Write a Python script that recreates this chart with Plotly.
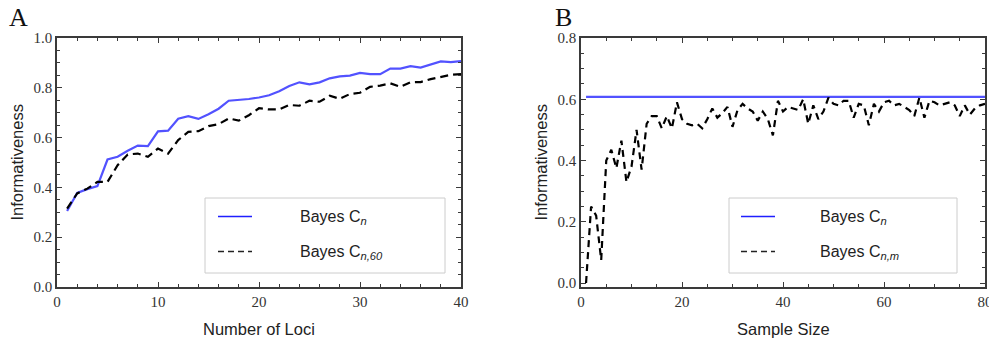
import plotly.graph_objects as go

# ---- Panel A: informativeness vs number of loci ----
loci = list(range(1, 41))
bayes_cn_a = [0.305, 0.378, 0.393, 0.405, 0.512, 0.523, 0.547, 0.568, 0.566, 0.625,
              0.628, 0.676, 0.686, 0.675, 0.694, 0.716, 0.748, 0.750, 0.755, 0.761,
              0.770, 0.786, 0.807, 0.822, 0.814, 0.822, 0.838, 0.846, 0.849, 0.860,
              0.855, 0.855, 0.877, 0.877, 0.887, 0.881, 0.892, 0.906, 0.903, 0.907]
bayes_cn60_a = [0.315, 0.376, 0.395, 0.422, 0.422, 0.489, 0.532, 0.536, 0.523, 0.556,
                0.536, 0.590, 0.623, 0.626, 0.646, 0.654, 0.677, 0.668, 0.690, 0.718,
                0.713, 0.713, 0.731, 0.728, 0.748, 0.744, 0.768, 0.756, 0.775, 0.780,
                0.804, 0.809, 0.818, 0.804, 0.822, 0.823, 0.835, 0.844, 0.852, 0.855]

# ---- Panel B: informativeness vs sample size ----
sample_size = list(range(1, 81))
bayes_cn_b = [0.608] * 80
bayes_cnm_b = [0.000, 0.250, 0.220, 0.075, 0.400, 0.435, 0.375, 0.465, 0.330, 0.380,
               0.500, 0.370, 0.520, 0.545, 0.545, 0.505, 0.545, 0.505, 0.590, 0.535,
               0.520, 0.515, 0.520, 0.505, 0.535, 0.570, 0.540, 0.555, 0.575, 0.510,
               0.565, 0.585, 0.570, 0.560, 0.530, 0.560, 0.535, 0.482, 0.595, 0.560,
               0.575, 0.570, 0.565, 0.600, 0.520, 0.580, 0.535, 0.560, 0.605, 0.585,
               0.580, 0.595, 0.595, 0.540, 0.585, 0.580, 0.515, 0.585, 0.560, 0.590,
               0.595, 0.580, 0.585, 0.575, 0.565, 0.545, 0.605, 0.540, 0.595, 0.590,
               0.580, 0.585, 0.590, 0.580, 0.545, 0.580, 0.550, 0.570, 0.580, 0.585]

W, H = 989, 341
BLUE = "#5252ff"
LEG_BLUE = "#1f1fff"
FRAME = "#3a3a3a"
SERIF = "Liberation Serif, Times New Roman, serif"
SANS = "Liberation Sans, Arial, sans-serif"

# plot areas in pixels
ax_a = dict(x0=57, x1=461)
ax_b = dict(x0=581, x1=985)
y_top, y_bot = 38, 287


def px_x(p):
    return p / W


def px_y(p):
    return 1 - p / H


fig = go.Figure()

fig.add_trace(go.Scatter(x=loci, y=bayes_cn_a, mode="lines",
                         line=dict(color=BLUE, width=2.2), xaxis="x", yaxis="y",
                         showlegend=False))
fig.add_trace(go.Scatter(x=loci, y=bayes_cn60_a, mode="lines",
                         line=dict(color="black", width=2.2, dash="8px,5px"),
                         xaxis="x", yaxis="y", showlegend=False))
fig.add_trace(go.Scatter(x=sample_size, y=bayes_cn_b, mode="lines",
                         line=dict(color=BLUE, width=2.2), xaxis="x2", yaxis="y2",
                         showlegend=False))
fig.add_trace(go.Scatter(x=sample_size, y=bayes_cnm_b, mode="lines",
                         line=dict(color="black", width=2.2, dash="7px,5px"),
                         xaxis="x2", yaxis="y2", showlegend=False))

tickfont = dict(family=SERIF, size=15, color="#333333")


def axis(domain, rng, dtick, minor_dtick, anchor):
    return dict(
        domain=domain, range=rng, dtick=dtick, tick0=0,
        showgrid=False, zeroline=False, showline=True, linecolor=FRAME,
        linewidth=1.5, mirror="ticks", ticks="inside", ticklen=5,
        tickwidth=1.2, tickcolor=FRAME, tickfont=tickfont,
        ticklabeloverflow="allow",
        minor=dict(dtick=minor_dtick, tick0=0, ticks="inside", ticklen=3,
                   tickwidth=1, tickcolor=FRAME, showgrid=False),
        anchor=anchor, automargin=False, fixedrange=True,
    )


ydom = [px_y(y_bot), px_y(y_top)]
xa = axis([px_x(ax_a["x0"]), px_x(ax_a["x1"])], [0, 40], 10, 2, "y")
ya = axis(ydom, [0, 1.0], 0.2, 0.05, "x")
ya["tickformat"] = ".1f"
xb = axis([px_x(ax_b["x0"]), px_x(ax_b["x1"])], [0, 80], 20, 5, "y2")
yb = axis(ydom, [-0.013, 0.8], 0.2, 0.05, "x2")
yb["tickformat"] = ".1f"

annotations = []
shapes = []

# panel letters
for letter, lx in [("A", 7), ("B", 553)]:
    annotations.append(dict(text=letter, x=px_x(lx), y=px_y(18), xref="paper",
                            yref="paper", xanchor="left", yanchor="middle",
                            showarrow=False,
                            font=dict(family=SERIF, size=26, color="#111111")))

title_font = dict(family=SANS, size=16.5, color="#222222")
for cx, label in [((ax_a["x0"] + ax_a["x1"]) / 2, "Number of Loci"),
                  ((ax_b["x0"] + ax_b["x1"]) / 2, "Sample Size")]:
    annotations.append(dict(text=label, x=px_x(cx), y=px_y(329), xref="paper",
                            yref="paper", xanchor="center", yanchor="middle",
                            showarrow=False, font=title_font))
for cx in [16, 540]:
    annotations.append(dict(text="Informativeness", x=px_x(cx),
                            y=px_y((y_top + y_bot) / 2), xref="paper", yref="paper",
                            xanchor="center", yanchor="middle", textangle=-90,
                            showarrow=False, font=title_font))

# legends
leg_font = dict(family=SANS, size=16, color="#222222")
legends = [
    dict(box=(205, 445), line=(218, 252), text_x=298,
         labels=["Bayes C<sub><i>n</i></sub>", "Bayes C<sub><i>n,60</i></sub>"]),
    dict(box=(729, 957), line=(741, 775), text_x=818,
         labels=["Bayes C<sub><i>n</i></sub>", "Bayes C<sub><i>n,m</i></sub>"]),
]
for lg in legends:
    shapes.append(dict(type="rect", xref="paper", yref="paper",
                       x0=px_x(lg["box"][0]), x1=px_x(lg["box"][1]),
                       y0=px_y(273), y1=px_y(198),
                       line=dict(color="#cccccc", width=1), fillcolor="white",
                       layer="above"))
    rows = [(216.5, dict(color=LEG_BLUE, width=1.6)),
            (251.5, dict(color="#222222", width=1.6, dash="6px,4px"))]
    for (ry, lstyle), lab in zip(rows, lg["labels"]):
        shapes.append(dict(type="line", xref="paper", yref="paper",
                           x0=px_x(lg["line"][0]), x1=px_x(lg["line"][1]),
                           y0=px_y(ry), y1=px_y(ry), line=lstyle, layer="above"))
        annotations.append(dict(text=lab, x=px_x(lg["text_x"]), y=px_y(ry + 1),
                                xref="paper", yref="paper", xanchor="left",
                                yanchor="middle", showarrow=False, font=leg_font))

fig.update_layout(
    width=W, height=H, margin=dict(l=0, r=0, t=0, b=0, pad=0),
    paper_bgcolor="white", plot_bgcolor="white", template="none",
    xaxis=xa, yaxis=ya, xaxis2=xb, yaxis2=yb,
    annotations=annotations, shapes=shapes, showlegend=False,
)

fig.write_html("out.html")
